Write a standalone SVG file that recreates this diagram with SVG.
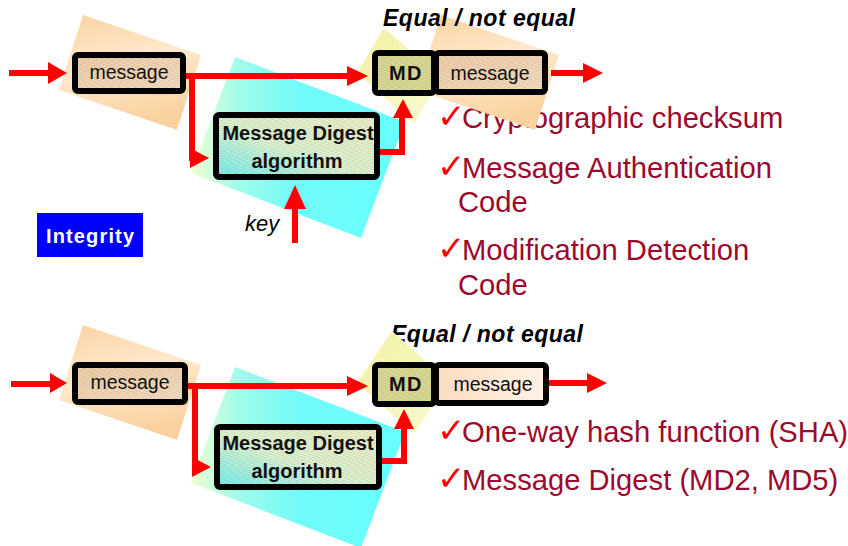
<svg xmlns="http://www.w3.org/2000/svg" width="848" height="546" viewBox="0 0 848 546">
<defs>
<linearGradient id="peachBg" x1="0" y1="0" x2="0.3" y2="1">
<stop offset="0" stop-color="#FAD3A2"/>
<stop offset="0.5" stop-color="#FFE9CC"/>
<stop offset="1" stop-color="#FAD2A0"/>
</linearGradient>
<linearGradient id="cyanBg" x1="0" y1="0.5" x2="1" y2="0.5">
<stop offset="0" stop-color="#F0FFD0"/>
<stop offset="0.22" stop-color="#A0FCEC"/>
<stop offset="0.5" stop-color="#72FAFA"/>
<stop offset="1" stop-color="#66FFFF"/>
</linearGradient>
<linearGradient id="yellowBg" x1="0" y1="0" x2="1" y2="1">
<stop offset="0" stop-color="#F2F2A0"/>
<stop offset="1" stop-color="#FAFAD6"/>
</linearGradient>
<linearGradient id="peachBox" x1="0" y1="0" x2="1" y2="1">
<stop offset="0" stop-color="#F6D2AA"/>
<stop offset="1" stop-color="#FBE2C4"/>
</linearGradient>
<linearGradient id="peachLight" x1="0" y1="0" x2="1" y2="0">
<stop offset="0" stop-color="#FBDCC0"/>
<stop offset="1" stop-color="#FFF3E6"/>
</linearGradient>
<linearGradient id="algBox" x1="0" y1="1" x2="1" y2="0">
<stop offset="0" stop-color="#70F4F4"/>
<stop offset="0.45" stop-color="#E2F8D4"/>
<stop offset="1" stop-color="#F2F4C8"/>
</linearGradient>
<pattern id="hatch" width="6" height="2.4" patternUnits="userSpaceOnUse" patternTransform="rotate(18)">
<line x1="0" y1="0.6" x2="6" y2="0.6" stroke="#6A6A6A" stroke-width="0.6" opacity="0.45"/>
</pattern>
<style>
.box{stroke:#000;stroke-width:6;}
.hatch{fill:url(#hatch);stroke:none;}
.lbl{font-family:"Liberation Sans",Arial,sans-serif;font-size:19.5px;fill:#111;text-anchor:middle;}
.blbl{font-family:"Liberation Sans",Arial,sans-serif;font-size:20px;font-weight:bold;fill:#111;text-anchor:middle;}
.eq{font-family:"Liberation Sans",Arial,sans-serif;font-size:23px;font-weight:bold;font-style:italic;fill:#000;}
.list{font-family:"Liberation Sans",Arial,sans-serif;font-size:29.2px;fill:#9B0A2D;}
.chk{font-family:"DejaVu Sans",sans-serif;font-size:34px;fill:#FF0000;}
.wire{fill:none;stroke:#FF0000;stroke-width:6;}
.head{fill:#FF0000;stroke:none;}
</style>
</defs>
<rect width="848" height="546" fill="#FFFFFF"/>

<!-- text that sits beneath backgrounds -->
<g id="list-top">
<text class="chk" x="437" y="128">✓</text><text class="list" x="462" y="128">Cryptographic checksum</text>
<text class="chk" x="437" y="178">✓</text><text class="list" x="462" y="178">Message Authentication</text>
<text class="list" x="458" y="212">Code</text>
<text class="chk" x="437" y="260">✓</text><text class="list" x="462" y="260">Modification Detection</text>
<text class="list" x="458" y="295">Code</text>
</g>
<g id="list-bottom">
<text class="chk" x="437" y="442">✓</text><text class="list" x="462" y="442">One-way hash function (SHA)</text>
<text class="chk" x="437" y="490">✓</text><text class="list" x="462" y="490">Message Digest (MD2, MD5)</text>
</g>
<g id="equal-bottom"><text class="eq" x="391" y="342" textLength="192" lengthAdjust="spacing">Equal / not equal</text></g>

<!-- backgrounds -->
<g id="backgrounds">
<polygon points="83,15 201,55 177,130 59,90" fill="url(#peachBg)"/>
<polygon points="235,57 405,122 361,238 191,173" fill="url(#cyanBg)"/>
<polygon points="384,28 441,78 414,124 357,73" fill="url(#yellowBg)"/>
<polygon points="441,15 559,55 535,130 417,90" fill="url(#peachBg)"/>
<polygon points="83,325 201,365 177,440 59,400" fill="url(#peachBg)"/>
<polygon points="235,367 405,432 361,548 191,483" fill="url(#cyanBg)"/>
<polygon points="392,331 449,382 414,434 357,383" fill="url(#yellowBg)"/>
</g>
<g id="equal-top"><text class="eq" x="383" y="26" textLength="192" lengthAdjust="spacing">Equal / not equal</text></g>

<!-- connectors -->
<g id="connectors">
<line class="wire" x1="9" y1="73" x2="52" y2="73"/>
<polygon class="head" points="48,62 67,73 48,84"/>
<path class="wire" d="M186,76 H350"/>
<polygon class="head" points="347,66 368,76 347,86"/>
<path class="wire" d="M192,73 V158 H194"/>
<polygon class="head" points="190,148 209,158 190,168"/>
<path class="wire" d="M380,152 H402 V115"/>
<polygon class="head" points="393,118 403,99 413,118"/>
<line class="wire" x1="551" y1="73" x2="586" y2="73"/>
<polygon class="head" points="583,63 603,73 583,83"/>
<line class="wire" x1="295" y1="243" x2="295" y2="206"/>
<polygon class="head" points="284,209 295,185 306,209"/>

<line class="wire" x1="11" y1="384" x2="54" y2="384"/>
<polygon class="head" points="50,373 67,383 50,393"/>
<path class="wire" d="M188,386 H350"/>
<polygon class="head" points="347,376 368,386 347,396"/>
<path class="wire" d="M195,383 V467 H196"/>
<polygon class="head" points="192,457 211,467 192,477"/>
<path class="wire" d="M382,461 H404 V427"/>
<polygon class="head" points="394,429 404,409 414,429"/>
<line class="wire" x1="546" y1="383" x2="590" y2="383"/>
<polygon class="head" points="587,373 607,383 587,393"/>
</g>

<!-- nodes: top -->
<g id="message-in-top">
<rect class="box" x="75" y="55" width="108" height="36" rx="3" fill="url(#peachBox)"/>
<rect class="hatch" x="78" y="58" width="102" height="30"/>
<text class="lbl" x="129" y="79">message</text>
</g>
<g id="md-alg-top">
<rect class="box" x="216" y="115" width="161" height="62" rx="3" fill="url(#algBox)"/>
<rect class="hatch" x="219" y="118" width="155" height="56"/>
<text class="blbl" x="298" y="140">Message Digest</text>
<text class="blbl" x="297" y="168">algorithm</text>
</g>
<g id="message-out-top">
<rect class="box" x="436" y="53" width="109" height="39" rx="3" fill="url(#peachBox)"/>
<rect class="hatch" x="439" y="56" width="103" height="33"/>
<text class="lbl" x="490" y="80">message</text>
</g>
<g id="md-top">
<rect class="box" x="375" y="53" width="59" height="40" rx="3" fill="#DEDE94"/>
<rect class="hatch" x="378" y="56" width="53" height="34"/>
<text class="blbl" x="406" y="80" font-size="19.5" letter-spacing="1.5">MD</text>
</g>

<!-- nodes: bottom -->
<g id="message-in-bottom">
<rect class="box" x="75" y="365" width="110" height="37" rx="3" fill="url(#peachBox)"/>
<rect class="hatch" x="78" y="368" width="104" height="31"/>
<text class="lbl" x="130" y="389">message</text>
</g>
<g id="md-alg-bottom">
<rect class="box" x="217" y="427" width="162" height="60" rx="3" fill="url(#algBox)"/>
<rect class="hatch" x="220" y="430" width="156" height="54"/>
<text class="blbl" x="298" y="450">Message Digest</text>
<text class="blbl" x="297" y="478">algorithm</text>
</g>
<g id="message-out-bottom">
<rect class="box" x="436" y="365" width="110" height="38" rx="3" fill="url(#peachLight)"/>
<text class="lbl" x="493" y="391">message</text>
</g>
<g id="md-bottom">
<rect class="box" x="375" y="365" width="59" height="39" rx="3" fill="#DEDE94"/>
<rect class="hatch" x="378" y="368" width="53" height="33"/>
<text class="blbl" x="406" y="391" font-size="19.5" letter-spacing="1.5">MD</text>
</g>

<!-- other labels -->
<g id="integrity">
<rect x="37" y="213" width="106" height="44" fill="#0000FF"/>
<text x="90" y="243" font-family="Liberation Sans, Arial, sans-serif" font-size="20" font-weight="bold" fill="#FFFFFF" text-anchor="middle" textLength="88" lengthAdjust="spacing">Integrity</text>
</g>
<g id="key-label">
<text x="245" y="231" font-family="Liberation Sans, Arial, sans-serif" font-size="22" font-style="italic" fill="#000">key</text>
</g>
</svg>
